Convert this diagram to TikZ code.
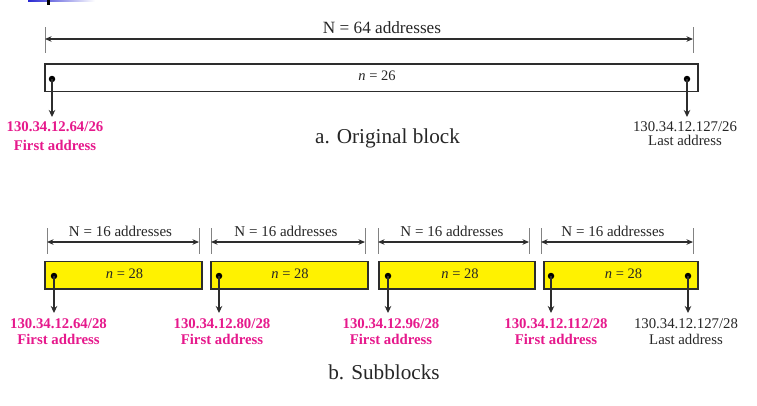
\documentclass[tikz,border=0pt]{standalone}
\usepackage{fontspec}
\setmainfont{Liberation Serif}
\usetikzlibrary{arrows.meta}
\definecolor{pinkc}{RGB}{230,25,140}
\definecolor{yelc}{RGB}{255,242,0}
\definecolor{lineg}{RGB}{45,45,45}
\definecolor{tickg}{RGB}{130,130,130}
\definecolor{barblue}{RGB}{40,40,210}
\begin{document}
\begin{tikzpicture}[x=1pt,y=-1pt,
  blockbox/.style={draw=lineg, line width=1.5pt, inner sep=0, anchor=north west, minimum height=27.5pt},
  subbox/.style={blockbox, fill=yelc},
  dot/.style={circle, fill=black, inner sep=0, minimum size=6.5pt},
  arr/.style={-{Stealth[length=7pt,width=6.5pt]}, line width=1.5pt, draw=lineg},
  dim/.style={{Stealth[length=6.5pt,width=5.5pt]}-{Stealth[length=6.5pt,width=5.5pt]}, line width=1.3pt, draw=lineg},
  tick/.style={draw=tickg, line width=0.7pt},
  dimtext/.style={anchor=base, inner sep=0, font=\fontsize{15}{18}\selectfont, text=black!85},
  ntext/.style={anchor=base, inner sep=0, font=\fontsize{14.5}{17}\selectfont, text=black!85},
  flabel/.style={anchor=north, inner sep=0, align=center, text=pinkc, font=\bfseries\fontsize{14.8}{16}\selectfont},
  llabel/.style={anchor=north, inner sep=0, align=center, text=black!85, font=\fontsize{14.8}{16}\selectfont},
  caption/.style={anchor=base, inner sep=0, font=\fontsize{21.2}{24}\selectfont, text=black!85}
]
\useasboundingbox (0,0) rectangle (757,405);
% slide decoration
\shade[left color=barblue, right color=white] (28,0) rectangle (95,1.6);
\fill[black] (47,0) rectangle (50,4.5);

% ---------- a. original block ----------
\coordinate (ta) at (45,39);
\coordinate (tb) at (693,39);
\draw[tick] ([yshift=12pt]ta) -- ([yshift=-14pt]ta);
\draw[tick] ([yshift=12pt]tb) -- ([yshift=-14pt]tb);
\draw[dim] (ta) -- (tb);
\node[dimtext, font=\fontsize{17.2}{20}\selectfont] (t64) at (382,33) {N = 64 addresses};

\node[blockbox, minimum width=653pt] (top) at (44,63) {};
\node[ntext] (n26) at (377,80) {\textit{n} = 26};
\node[dot] (d0a) at (52,79) {};
\node[dot] (d0b) at (687,79) {};
\node[flabel, font=\bfseries\fontsize{14.8}{19}\selectfont] (l0a) at (55,121) {130.34.12.64/26\\First address};
\node[llabel, font=\fontsize{14.8}{14.5}\selectfont] (l0b) at (685,121) {130.34.12.127/26\\Last address};
\draw[arr, shorten >=4pt] (d0a.center) -- (l0a.north -| d0a.center);
\draw[arr, shorten >=4pt] (d0b.center) -- (l0b.north -| d0b.center);
\node[caption] (capa) at (387.5,143.5) {a. Original block};

% ---------- b. subblocks ----------
\foreach \i/\xa/\xb/\tx in {1/47/199/120.5, 2/211/365/286, 3/378/529/452, 4/541/693/613}{
  \coordinate (sa\i) at (\xa,242);
  \coordinate (sb\i) at (\xb,242);
  \draw[tick] ([yshift=14pt]sa\i) -- ([yshift=-12pt]sa\i);
  \draw[tick] ([yshift=14pt]sb\i) -- ([yshift=-12pt]sb\i);
  \draw[dim] (sa\i) -- (sb\i);
  \node[dimtext] (t16\i) at (\tx,236) {N = 16 addresses};
}
\foreach \i/\xl/\w/\nx in {1/44/157/124.5, 2/210/157/290, 3/378/156/460, 4/543/154/623.5}{
  \node[subbox, minimum width=\w pt] (sub\i) at (\xl,260.5) {};
  \node[ntext] (n28\i) at (\nx,278) {\textit{n} = 28};
}
\foreach \i/\dx/\lx/\txt in {1/54/58.5/130.34.12.64, 2/219/222/130.34.12.80, 3/388/391/130.34.12.96, 4/551/556/130.34.12.112}{
  \node[dot] (ds\i) at (\dx,276) {};
  \node[flabel] (ls\i) at (\lx,318) {\txt/28\\First address};
  \draw[arr, shorten >=5pt] (ds\i.center) -- (ls\i.north -| ds\i.center);
}
\node[dot] (ds5) at (688,276) {};
\node[llabel] (ls5) at (686,318) {130.34.12.127/28\\Last address};
\draw[arr, shorten >=5pt] (ds5.center) -- (ls5.north -| ds5.center);
\node[caption] (capb) at (384,379) {b. Subblocks};
\end{tikzpicture}
\end{document}
